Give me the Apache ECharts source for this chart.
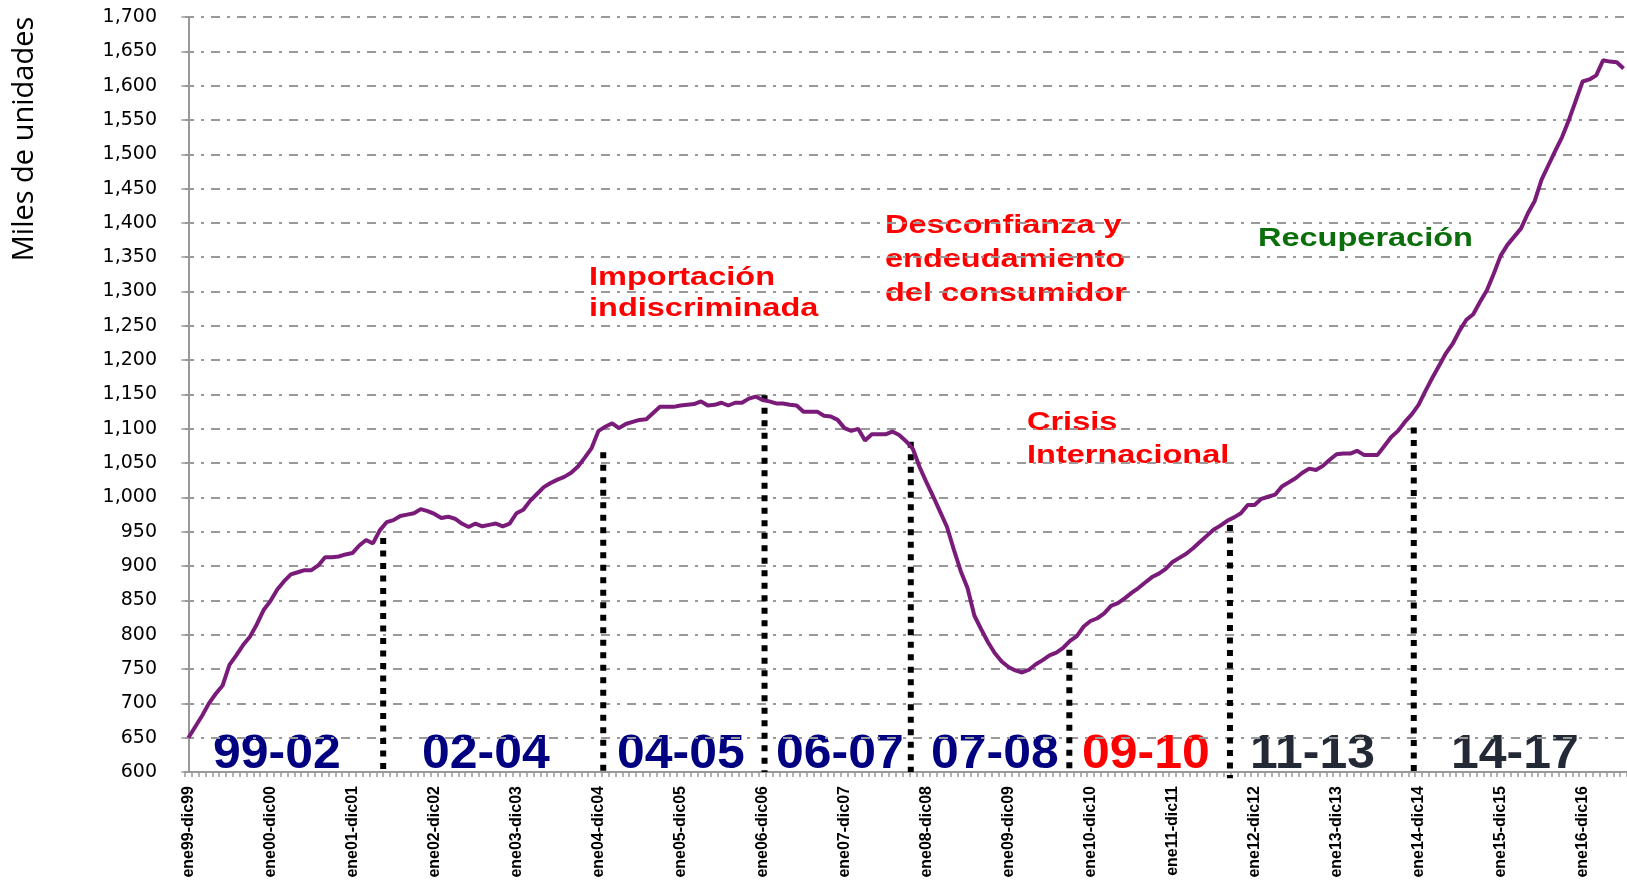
<!DOCTYPE html>
<html>
  <head>
    <meta charset="utf-8" />
    <title>Miles de unidades</title>
    <script src="https://cdn.jsdelivr.net/npm/echarts@6/dist/echarts.min.js"></script>
    <style>
      html, body { margin: 0; padding: 0; background: #fff; }
    </style>
  </head>
  <body>
    <div id="main" style="width: 1627px;height: 882px;"></div>
    <script type="text/javascript">
      // rolling 12-month windows, one array per window start year (ene..dic)
      var win99 = [650, 666, 682, 700, 714, 726, 756, 770, 785, 797, 815, 836];
      var win00 = [849, 866, 878, 888, 891, 894, 894, 901, 913, 913, 914, 917];
      var win01 = [919, 930, 938, 933, 952, 964, 967, 973, 975, 977, 983, 980];
      var win02 = [976, 970, 972, 969, 962, 957, 962, 958, 960, 962, 958, 962];
      var win03 = [977, 982, 995, 1005, 1015, 1021, 1026, 1030, 1036, 1045, 1058, 1072];
      var win04 = [1097, 1103, 1108, 1101, 1107, 1110, 1113, 1114, 1123, 1132, 1132, 1132];
      var win05 = [1134, 1135, 1136, 1140, 1134, 1135, 1138, 1134, 1138, 1138, 1144, 1147];
      var win06 = [1142, 1140, 1137, 1137, 1135, 1134, 1125, 1125, 1125, 1119, 1118, 1113];
      var win07 = [1101, 1097, 1100, 1083, 1092, 1092, 1092, 1096, 1091, 1082, 1071, 1044];
      var win08 = [1022, 1001, 979, 957, 924, 893, 868, 828, 808, 789, 773, 761];
      var win09 = [753, 748, 745, 749, 757, 763, 770, 774, 781, 791, 798, 812];
      var win10 = [820, 824, 831, 842, 846, 853, 861, 868, 876, 884, 889, 896];
      var win11 = [906, 912, 918, 926, 935, 944, 953, 959, 966, 971, 977, 989];
      var win12 = [989, 998, 1001, 1004, 1016, 1022, 1028, 1036, 1042, 1040, 1046, 1055];
      var win13 = [1063, 1064, 1064, 1068, 1062, 1062, 1062, 1075, 1088, 1097, 1110, 1121];
      var win14 = [1135, 1155, 1174, 1192, 1210, 1224, 1243, 1259, 1267, 1285, 1302, 1326];
      var win15 = [1352, 1368, 1380, 1392, 1414, 1432, 1463, 1484, 1505, 1525, 1550, 1578];
      var win16 = [1606, 1609, 1615, 1637, 1635, 1634, 1625];

      var values = [].concat(win99, win00, win01, win02, win03, win04, win05, win06,
        win07, win08, win09, win10, win11, win12, win13, win14, win15, win16);

      var months = ['ene', 'feb', 'mar', 'abr', 'may', 'jun', 'jul', 'ago', 'sep', 'oct', 'nov', 'dic'];
      function yy(m) {
        var y = (1999 + Math.floor(m / 12)) % 100;
        return (y < 10 ? '0' : '') + y;
      }
      var categories = values.map(function (v, i) {
        return months[i % 12] + yy(i) + '-' + months[(i + 11) % 12] + yy(i + 11);
      });

      // period dividers (category position, bottom and top value)
      var dividerAt = [28.5, 60.7, 84.3, 105.7, 128.9, 152.4, 179.3];
      var dividerTop = [941, 1066, 1149, 1081, 778, 960, 1102];
      var dividerBottom = [600, 600, 600, 600, 600, 591, 600];

      var periodNames = ['99-02', '02-04', '04-05', '06-07', '07-08', '09-10', '11-13', '14-17'];
      var periodColors = ['#000080', '#000080', '#000080', '#000080', '#000080', '#ff0000', '#242a35', '#242a35'];
      var periodLeft = [213, 422, 617, 776, 931, 1082, 1250, 1451];

      var notes = [
        { text: 'Importación\nindiscriminada', color: '#ff0000', x: 589, y: 262, lh: 31 },
        { text: 'Desconfianza y\nendeudamiento\ndel consumidor', color: '#ff0000', x: 885, y: 209, lh: 34 },
        { text: 'Crisis\nInternacional', color: '#ff0000', x: 1027, y: 406, lh: 33 },
        { text: 'Recuperación', color: '#0a6e0a', x: 1258, y: 223, lh: 31 }
      ];

      var myChart = echarts.init(document.getElementById('main'), null, { renderer: 'canvas' });

      var graphics = [];
      periodNames.forEach(function (name, i) {
        graphics.push({
          type: 'text',
          x: periodLeft[i],
          y: 755,
          scaleX: 1.04,
          style: {
            text: name,
            fill: periodColors[i],
            font: 'bold 48px "Liberation Sans", Arial, sans-serif',
            align: 'left',
            verticalAlign: 'middle'
          }
        });
      });
      notes.forEach(function (n) {
        graphics.push({
          type: 'text',
          x: n.x,
          y: n.y,
          scaleX: 1.25,
          style: {
            text: n.text,
            fill: n.color,
            font: 'bold 26px "Liberation Sans", Arial, sans-serif',
            lineHeight: n.lh,
            align: 'left',
            verticalAlign: 'top'
          }
        });
      });
      graphics.push({
        type: 'text',
        x: 25,
        y: 139,
        rotation: Math.PI / 2,
        style: {
          text: 'Miles de unidades',
          fill: '#000',
          font: '29px "Open Sans", sans-serif',
          align: 'center',
          verticalAlign: 'middle'
        }
      });

      var dividerSeries = dividerAt.map(function (x, i) {
        return {
          type: 'line',
          xAxisIndex: 1,
          data: [[x, dividerTop[i]], [x, dividerBottom[i]]],
          showSymbol: false,
          clip: false,
          silent: true,
          z: 2,
          lineStyle: { color: '#000', width: 6, type: [6, 6.5], cap: 'butt' }
        };
      });

      var option = {
        animation: false,
        grid: { left: 185, right: 0, top: 17, bottom: 110, containLabel: false, outerBoundsMode: 'none' },
        xAxis: [
          {
            type: 'category',
            data: categories,
            boundaryGap: true,
            axisLine: { lineStyle: { color: '#999', width: 2 } },
            axisTick: { show: true, interval: 0, length: 5, lineStyle: { color: '#999', width: 1.5 } },
            axisLabel: {
              interval: 11,
              rotate: 90,
              margin: 14,
              color: '#000',
              fontWeight: 'bold',
              fontSize: 16,
              fontFamily: '"Liberation Sans", Arial, sans-serif'
            },
            splitLine: { show: false }
          },
          {
            type: 'value',
            min: -0.5,
            max: values.length - 0.5,
            show: false
          }
        ],
        yAxis: {
          type: 'value',
          min: 600,
          max: 1700,
          interval: 50,
          axisLine: { show: true, lineStyle: { color: '#999', width: 2 } },
          axisTick: { show: true, length: 7, lineStyle: { color: '#999', width: 1.5 } },
          axisLabel: {
            margin: 28,
            color: '#000',
            fontSize: 19,
            fontFamily: '"DejaVu Sans", sans-serif',
            formatter: function (v) { return v.toLocaleString('en-US'); }
          },
          splitLine: { lineStyle: { color: '#999', width: 2, type: [9, 7, 3, 7] } }
        },
        graphic: graphics,
        series: [
          {
            type: 'line',
            data: values,
            showSymbol: false,
            z: 3,
            lineStyle: { color: '#7a1b7a', width: 4 },
            itemStyle: { color: '#7a1b7a' }
          }
        ].concat(dividerSeries)
      };
      myChart.setOption(option);
    </script>
  </body>
</html>
